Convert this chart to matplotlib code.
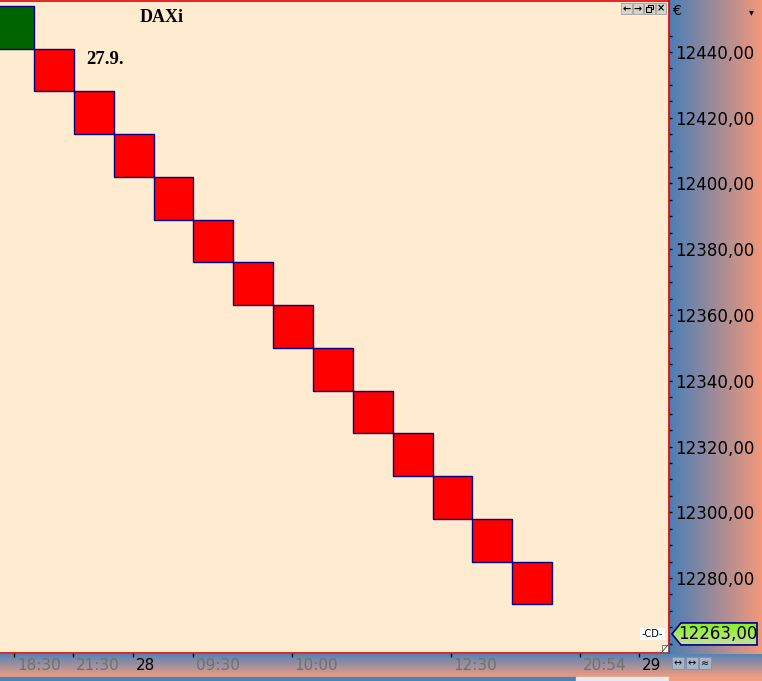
import numpy as np
import matplotlib
matplotlib.use("Agg")
import matplotlib.pyplot as plt
from matplotlib.patches import Rectangle, Polygon
from matplotlib.ticker import FixedLocator, FuncFormatter
import matplotlib.transforms as mtransforms

# renko bricks (box size 13)
brick_pos = [-1, 0, 1, 2, 3, 4, 5, 6, 7, 8, 9, 10, 11, 12]
brick_low = [12441, 12428, 12415, 12402, 12389, 12376, 12363, 12350, 12337, 12324, 12311, 12298, 12285, 12272]
brick_high = [12454, 12441, 12428, 12415, 12402, 12389, 12376, 12363, 12350, 12337, 12324, 12311, 12298, 12285]
brick_up = [True, False, False, False, False, False, False, False, False, False, False, False, False, False]
last_price = 12263

price_ticks = [12280, 12300, 12320, 12340, 12360, 12380, 12400, 12420, 12440]
time_pos = [-0.50, 0.98, 2.48, 3.99, 6.47, 10.46, 13.70, 15.18]
time_labels = ['18:30', '21:30', '28', '09:30', '10:00', '12:30', '20:54', '29']
day_labels = ['28', '29']

W, H = 762, 681
fig = plt.figure(figsize=(W / 100, H / 100), dpi=100)

def grad(c0, c1, n=256, vertical=False):
    c0 = np.array(matplotlib.colors.to_rgb(c0))
    c1 = np.array(matplotlib.colors.to_rgb(c1))
    t = np.linspace(0, 1, n)[:, None]
    g = c0 + (c1 - c0) * t
    return g[:, None, :] if vertical else g[None, :, :]

# background panels (pixel coords)
bg = fig.add_axes([0, 0, 1, 1], zorder=0)
bg.set_xlim(0, W); bg.set_ylim(H, 0); bg.axis('off')
bg.imshow(grad('#4a7eb6', '#f3987a'), extent=[669, W, 654, 0], aspect='auto', interpolation='bilinear')
bg.imshow(grad('#5584b6', '#f19c80', vertical=True), extent=[0, W, 677, 654], aspect='auto', interpolation='bilinear')
bg.add_patch(Rectangle((0, 677), 576, 4, color='#4f80b6'))
bg.add_patch(Rectangle((576, 677), 93, 4, color='#e4ebf2'))
bg.add_patch(Rectangle((669, 677), 93, 4, color='#f0a080'))

# main chart
ax = fig.add_axes([0, 28 / H, 669 / W, 652 / H], zorder=5)
ax.set_facecolor('#feebd0')
ax.set_xlim(-34 / 39.85, 635 / 39.85)
ax.set_ylim(12257.2, 12455.5)

for x, lo, hi, up in zip(brick_pos, brick_low, brick_high, brick_up):
    ax.add_patch(Rectangle((x, lo), 1, hi - lo, facecolor='#006400' if up else '#ff0000',
                           edgecolor='#000080', linewidth=1.0))

for s in ['top', 'right', 'bottom']:
    ax.spines[s].set_color('#e00000')
    ax.spines[s].set_linewidth(1.2)
ax.spines['left'].set_visible(False)

ax.yaxis.tick_right()
ax.yaxis.set_major_locator(FixedLocator(price_ticks))
ax.yaxis.set_minor_locator(FixedLocator(np.arange(12260, 12450, 5)))
ax.yaxis.set_major_formatter(FuncFormatter(lambda v, p: f"{v:.2f}".replace('.', ',')))
ax.tick_params(axis='y', which='both', direction='out', length=2.5, width=1, color='black', pad=2,
               labelsize=12)

ax.set_xticks(time_pos)
ax.set_xticklabels([])
ax.tick_params(axis='x', direction='out', length=3, width=1, color='black')
tr = mtransforms.blended_transform_factory(ax.transData, ax.transAxes)
for x, lab in zip(time_pos, time_labels):
    ax.text(x + 0.07, -13 / 652, lab, transform=tr, ha='left', va='center', fontsize=11,
            color='black' if lab in day_labels else '#707070', clip_on=False)

ax.text(162 / 669, 0.975, 'DAXi', transform=ax.transAxes, ha='center', va='center',
        fontsize=13, fontweight='bold', family='Liberation Serif')
ax.text(1.3, 12437.6, '27.9.', ha='left', va='center', fontsize=13.5, fontweight='bold',
        family='Liberation Serif')

# foreground decorations (pixel coords)
fg = fig.add_axes([0, 0, 1, 1], zorder=10)
fg.set_xlim(0, W); fg.set_ylim(H, 0); fg.axis('off')
fg.patch.set_alpha(0)

fig.canvas.draw()
py = H - ax.transData.transform((0, last_price))[1]
poly = Polygon([(672, py), (681, py - 11), (757, py - 11), (757, py + 11), (681, py + 11)],
               closed=True, facecolor='none', edgecolor='#000080', linewidth=1.2)
im = fg.imshow(grad('#86f020', '#c8e0a0', vertical=True), extent=[672, 757, py + 11, py - 11],
               aspect='auto', interpolation='bilinear')
fg.add_patch(poly)
im.set_clip_path(poly)
fg.text(718, py + 0.5, f"{last_price:.2f}".replace('.', ','), ha='center', va='center', fontsize=12)
fg.set_xlim(0, W); fg.set_ylim(H, 0)

# window buttons
for i, g in enumerate(['←', '→', '', '×']):
    x0 = 621 + i * 11.5
    fg.add_patch(Rectangle((x0, 3), 10.5, 11, facecolor='#d8d4cc', edgecolor='#a0a0a0', linewidth=0.6))
    if g:
        fg.text(x0 + 5.25, 8.7, g, ha='center', va='center', fontsize=7, fontweight='bold')
    else:
        fg.add_patch(Rectangle((x0 + 4, 4.5), 4.5, 4, facecolor='none', edgecolor='black', linewidth=0.8))
        fg.add_patch(Rectangle((x0 + 2, 7), 4.5, 4.5, facecolor='#d8d4cc', edgecolor='black', linewidth=0.8))
for i, g in enumerate(['↔', '↔', '≈']):
    x0 = 672 + i * 13.5
    fg.add_patch(Rectangle((x0, 657), 12, 12, facecolor='#a8b4c8', edgecolor='#8090a8', linewidth=0.6))
    fg.text(x0 + 6, 663, g, ha='center', va='center', fontsize=7)

fg.text(676, 11, '€', ha='center', va='center', fontsize=10)
fg.text(751, 12, '▾', ha='center', va='center', fontsize=7)
fg.add_patch(Rectangle((640, 628), 25, 12, facecolor='white', edgecolor='none'))
fg.text(652.5, 634, '-CD-', ha='center', va='center', fontsize=7)
fg.add_patch(Rectangle((662, 645), 6, 7, facecolor='white', edgecolor='#606060', linewidth=0.6))
fg.plot([662.5, 667.5], [651.5, 645.5], color='#404040', linewidth=0.6)

fig.savefig('out.png', dpi=100)
